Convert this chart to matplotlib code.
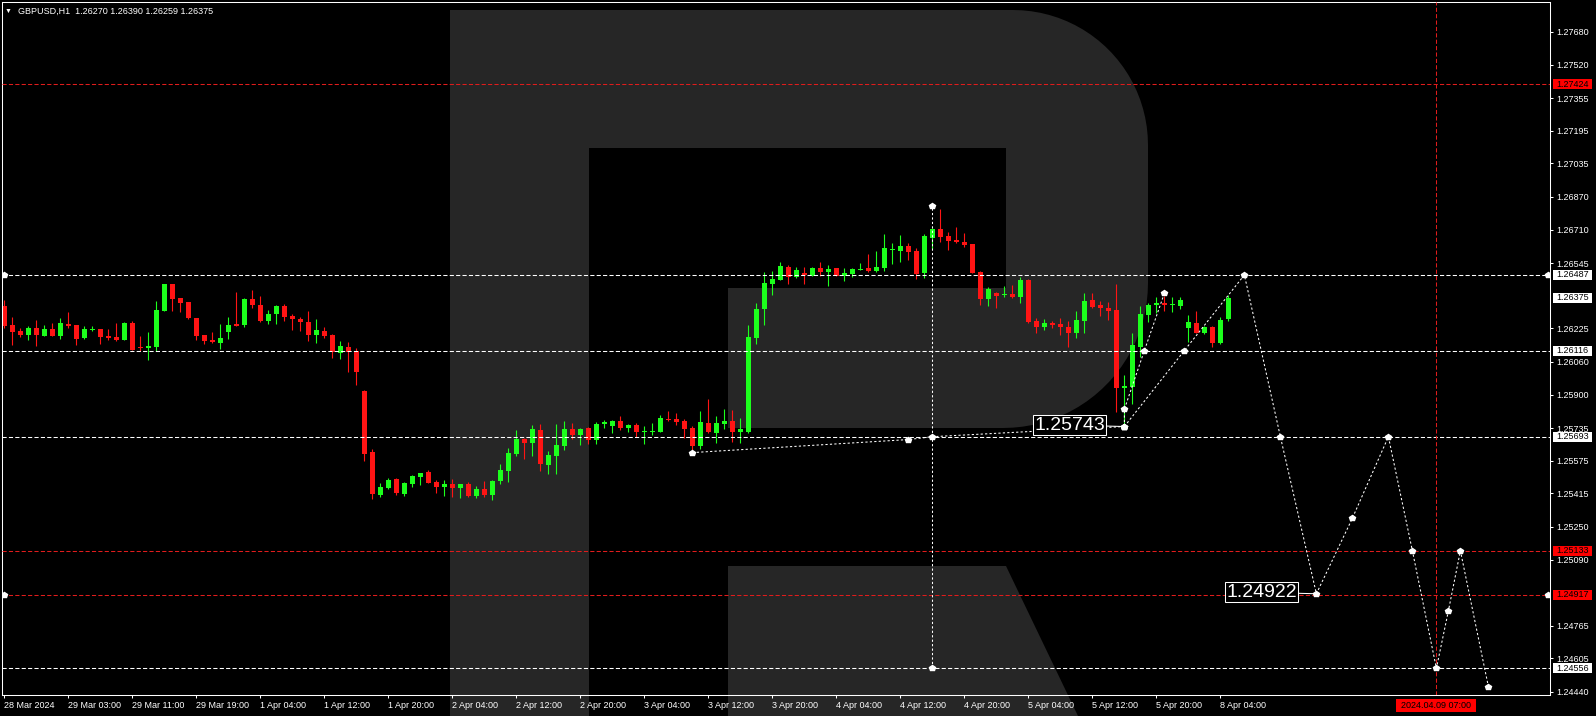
"""GBPUSD H1 candles with the forecast overlay, drawn like a dark MT4 chart."""
import matplotlib
matplotlib.use("Agg")
import matplotlib.pyplot as plt
import matplotlib.transforms as mtransforms
from matplotlib.patches import Polygon, Rectangle
import numpy as np

plt.rcParams['font.family'] = ['Liberation Sans', 'DejaVu Sans']
plt.rcParams['lines.scale_dashes'] = False

symbol = "GBPUSD,H1"

# one value per H1 bar, bar 0 = 28 Mar 19:00, last bar = 8 Apr 05:00
opens = [
    1.26335, 1.26241, 1.26212, 1.26192, 1.26227, 1.26188, 1.26222, 1.26188, 1.26246, 1.26241,
    1.26178, 1.26215, 1.26222, 1.26188, 1.26183, 1.26168, 1.26251, 1.26134, 1.26129, 1.26134,
    1.26310, 1.26442, 1.26374, 1.26354, 1.26276, 1.26192, 1.26168, 1.26153, 1.26207, 1.26246,
    1.26241, 1.26369, 1.26340, 1.26261, 1.26295, 1.26335, 1.26286, 1.26271, 1.26256, 1.26192,
    1.26212, 1.26192, 1.26104, 1.26134, 1.26114, 1.25918, 1.25618, 1.25407, 1.25442, 1.25486,
    1.25412, 1.25461, 1.25496, 1.25520, 1.25471, 1.25447, 1.25461, 1.25442, 1.25461, 1.25402,
    1.25437, 1.25407, 1.25476, 1.25525, 1.25608, 1.25682, 1.25663, 1.25726, 1.25554, 1.25599,
    1.25647, 1.25731, 1.25702, 1.25736, 1.25677, 1.25756, 1.25746, 1.25770, 1.25736, 1.25751,
    1.25716, 1.25716, 1.25716, 1.25780, 1.25780, 1.25770, 1.25736, 1.25647, 1.25761, 1.25712,
    1.25756, 1.25770, 1.25716, 1.25716, 1.26178, 1.26320, 1.26442, 1.26462, 1.26526, 1.26477,
    1.26497, 1.26482, 1.26521, 1.26502, 1.26521, 1.26482, 1.26492, 1.26512, 1.26521, 1.26507,
    1.26521, 1.26610, 1.26605, 1.26630, 1.26605, 1.26497, 1.26669, 1.26713, 1.26679, 1.26659,
    1.26649, 1.26639, 1.26502, 1.26369, 1.26399, 1.26389, 1.26394, 1.26379, 1.26462, 1.26261,
    1.26232, 1.26251, 1.26246, 1.26232, 1.26202, 1.26261, 1.26364, 1.26340, 1.26325, 1.26315,
    1.25933, 1.25938, 1.26134, 1.26290, 1.26340, 1.26349, 1.26340, 1.26335, 1.26227, 1.26251,
    1.26202, 1.26232, 1.26153, 1.26270,
]
highs = [
    1.26364, 1.26281, 1.26227, 1.26237, 1.26266, 1.26241, 1.26251, 1.26276, 1.26305, 1.26243,
    1.26237, 1.26237, 1.26224, 1.26222, 1.26251, 1.26256, 1.26261, 1.26188, 1.26207, 1.26359,
    1.26444, 1.26444, 1.26376, 1.26356, 1.26278, 1.26194, 1.26207, 1.26246, 1.26281, 1.26403,
    1.26374, 1.26413, 1.26384, 1.26315, 1.26340, 1.26345, 1.26295, 1.26281, 1.26310, 1.26271,
    1.26232, 1.26197, 1.26163, 1.26158, 1.26129, 1.25920, 1.25633, 1.25466, 1.25491, 1.25488,
    1.25471, 1.25505, 1.25515, 1.25530, 1.25481, 1.25481, 1.25486, 1.25463, 1.25471, 1.25451,
    1.25476, 1.25481, 1.25559, 1.25638, 1.25726, 1.25687, 1.25751, 1.25756, 1.25623, 1.25756,
    1.25770, 1.25761, 1.25736, 1.25741, 1.25766, 1.25775, 1.25775, 1.25795, 1.25756, 1.25761,
    1.25746, 1.25761, 1.25800, 1.25820, 1.25810, 1.25780, 1.25746, 1.25820, 1.25879, 1.25795,
    1.25830, 1.25825, 1.25785, 1.26241, 1.26349, 1.26502, 1.26507, 1.26551, 1.26536, 1.26526,
    1.26526, 1.26526, 1.26551, 1.26536, 1.26523, 1.26521, 1.26521, 1.26546, 1.26590, 1.26605,
    1.26688, 1.26644, 1.26684, 1.26644, 1.26620, 1.26688, 1.26718, 1.26811, 1.26698, 1.26723,
    1.26693, 1.26641, 1.26507, 1.26428, 1.26403, 1.26433, 1.26438, 1.26477, 1.26467, 1.26276,
    1.26271, 1.26261, 1.26276, 1.26261, 1.26310, 1.26399, 1.26399, 1.26359, 1.26354, 1.26442,
    1.25996, 1.26202, 1.26335, 1.26349, 1.26379, 1.26384, 1.26379, 1.26379, 1.26290, 1.26310,
    1.26237, 1.26234, 1.26281, 1.26390,
]
lows = [
    1.26227, 1.26143, 1.26183, 1.26168, 1.26139, 1.26186, 1.26186, 1.26173, 1.26227, 1.26143,
    1.26173, 1.26212, 1.26148, 1.26168, 1.26163, 1.26166, 1.26117, 1.26114, 1.26070, 1.26114,
    1.26308, 1.26310, 1.26305, 1.26271, 1.26168, 1.26148, 1.26153, 1.26124, 1.26173, 1.26234,
    1.26232, 1.26325, 1.26256, 1.26246, 1.26246, 1.26261, 1.26217, 1.26212, 1.26163, 1.26153,
    1.26178, 1.26080, 1.26075, 1.26011, 1.25947, 1.25574, 1.25387, 1.25397, 1.25437, 1.25407,
    1.25402, 1.25447, 1.25456, 1.25464, 1.25417, 1.25402, 1.25397, 1.25392, 1.25397, 1.25392,
    1.25397, 1.25382, 1.25461, 1.25471, 1.25599, 1.25584, 1.25599, 1.25525, 1.25510, 1.25510,
    1.25628, 1.25682, 1.25652, 1.25657, 1.25657, 1.25736, 1.25712, 1.25726, 1.25716, 1.25692,
    1.25657, 1.25702, 1.25714, 1.25770, 1.25751, 1.25687, 1.25628, 1.25633, 1.25712, 1.25663,
    1.25731, 1.25667, 1.25663, 1.25712, 1.26148, 1.26241, 1.26389, 1.26460, 1.26442, 1.26472,
    1.26442, 1.26480, 1.26482, 1.26433, 1.26480, 1.26457, 1.26477, 1.26510, 1.26502, 1.26502,
    1.26507, 1.26541, 1.26551, 1.26561, 1.26467, 1.26472, 1.26615, 1.26649, 1.26610, 1.26644,
    1.26625, 1.26497, 1.26340, 1.26335, 1.26325, 1.26379, 1.26374, 1.26349, 1.26251, 1.26202,
    1.26217, 1.26227, 1.26192, 1.26134, 1.26178, 1.26202, 1.26325, 1.26286, 1.26266, 1.25815,
    1.25743, 1.25854, 1.26085, 1.26256, 1.26300, 1.26310, 1.26305, 1.26320, 1.26158, 1.26202,
    1.26197, 1.26134, 1.26148, 1.26259,
]
closes = [
    1.26237, 1.26207, 1.26192, 1.26227, 1.26192, 1.26222, 1.26188, 1.26251, 1.26237, 1.26173,
    1.26222, 1.26224, 1.26183, 1.26178, 1.26168, 1.26251, 1.26119, 1.26129, 1.26139, 1.26315,
    1.26442, 1.26369, 1.26349, 1.26276, 1.26188, 1.26163, 1.26158, 1.26178, 1.26241, 1.26237,
    1.26369, 1.26340, 1.26261, 1.26295, 1.26335, 1.26281, 1.26271, 1.26256, 1.26192, 1.26217,
    1.26188, 1.26109, 1.26139, 1.26109, 1.26011, 1.25608, 1.25412, 1.25447, 1.25481, 1.25417,
    1.25466, 1.25501, 1.25513, 1.25466, 1.25447, 1.25461, 1.25442, 1.25459, 1.25402, 1.25437,
    1.25407, 1.25476, 1.25530, 1.25613, 1.25682, 1.25663, 1.25731, 1.25559, 1.25603, 1.25652,
    1.25731, 1.25702, 1.25731, 1.25677, 1.25756, 1.25766, 1.25770, 1.25736, 1.25751, 1.25716,
    1.25721, 1.25721, 1.25785, 1.25775, 1.25766, 1.25731, 1.25647, 1.25766, 1.25716, 1.25761,
    1.25770, 1.25716, 1.25731, 1.26183, 1.26320, 1.26448, 1.26467, 1.26531, 1.26477, 1.26512,
    1.26487, 1.26521, 1.26502, 1.26516, 1.26482, 1.26497, 1.26516, 1.26516, 1.26507, 1.26526,
    1.26620, 1.26615, 1.26630, 1.26600, 1.26492, 1.26679, 1.26713, 1.26674, 1.26654, 1.26649,
    1.26635, 1.26499, 1.26369, 1.26418, 1.26384, 1.26394, 1.26379, 1.26462, 1.26256, 1.26232,
    1.26251, 1.26241, 1.26232, 1.26202, 1.26266, 1.26359, 1.26330, 1.26325, 1.26310, 1.25933,
    1.25943, 1.26143, 1.26295, 1.26340, 1.26349, 1.26340, 1.26345, 1.26364, 1.26256, 1.26202,
    1.26232, 1.26153, 1.26266, 1.26375,
]

time_ticks = list(range(0, 153, 8))
time_labels = ["28 Mar 2024", "29 Mar 03:00", "29 Mar 11:00", "29 Mar 19:00", "1 Apr 04:00",
               "1 Apr 12:00", "1 Apr 20:00", "2 Apr 04:00", "2 Apr 12:00", "2 Apr 20:00",
               "3 Apr 04:00", "3 Apr 12:00", "3 Apr 20:00", "4 Apr 04:00", "4 Apr 12:00",
               "4 Apr 20:00", "5 Apr 04:00", "5 Apr 12:00", "5 Apr 20:00", "8 Apr 04:00"]
price_ticks = [1.27680, 1.27520, 1.27355, 1.27195, 1.27035, 1.26870, 1.26710, 1.26545,
               1.26225, 1.26060, 1.25900, 1.25735, 1.25575, 1.25415, 1.25250, 1.25090,
               1.24765, 1.24605, 1.24440]

white_levels = [1.26487, 1.26116, 1.25693, 1.24556]
red_levels = [1.27424, 1.25133, 1.24917]
end_marked_levels = [1.26487, 1.24917]
time_marker_bar = 179
time_marker_label = "2024.04.09 07:00"

# forecast drawing (bar index, price)
trend_x = [86, 113, 116, 140]
trend_y = [1.25615, 1.25679, 1.25693, 1.25743]
short_x = [140, 140, 142.5, 145]
short_y = [1.25743, 1.25828, 1.26116, 1.26397]
path_x = [140, 147.5, 155, 159.5, 164, 168.5, 173, 176, 179, 180.5, 182, 185.5]
path_y = [1.25743, 1.26116, 1.26487, 1.25693, 1.24922, 1.25293, 1.25693, 1.25133,
          1.24556, 1.24838, 1.25133, 1.24466]
peak_bar = 116
peak_top, peak_bottom = 1.26826, 1.24556
callout_x = [140, 164]
callout_y = [1.25743, 1.24922]

GREEN, RED, LVL_RED, LOGO = "#1cff1c", "#ff1414", "#e01c1c", "#262626"
W, H = 1596, 716

fig = plt.figure(figsize=(W / 100, H / 100), dpi=100, facecolor="black")

# background logo in pixel space
bg = fig.add_axes([0, 0, 1, 1])
bg.set_xlim(0, W); bg.set_ylim(H, 0); bg.axis("off")


def corner(cx, cy, r, a0, a1):
    t = np.radians(np.linspace(a0, a1, 24))
    return np.column_stack([cx + r * np.cos(t), cy + r * np.sin(t)])


bowl = np.vstack([[[450, 10], [1013, 10]],
                  corner(1013, 145, 135, -90, 0),
                  corner(1003, 283, 145, 0, 90),
                  [[728, 428], [728, 288], [1006, 288], [1006, 148],
                   [589, 148], [589, 716], [450, 716]]])
bg.add_patch(Polygon(bowl, closed=True, fc=LOGO, ec="none"))
bg.add_patch(Polygon([[728, 566], [1006, 566], [1078, 716], [728, 716]],
                     closed=True, fc=LOGO, ec="none"))

ax = fig.add_axes([2 / W, 21 / H, 1548 / W, 693 / H])
ax.set_facecolor("none")
ax.set_xlim(-0.29, 193.2)
ax.set_ylim(1.24425, 1.27827)
ypx = (1.27827 - 1.24425) / 693

o, hi, lo, c = map(np.array, (opens, highs, lows, closes))
idx = np.arange(len(o))
cols = np.where(c >= o, GREEN, RED)
ax.vlines(idx, lo, hi, colors=cols, lw=0.8, zorder=2)
ax.bar(idx, np.maximum(np.abs(c - o), ypx), bottom=np.minimum(o, c), width=0.625,
       color=cols, linewidth=0, zorder=2)

dash = (3.0, 1.6)
for lv in white_levels:
    ax.axhline(lv, color="white", lw=0.75, dashes=dash, zorder=3)
for lv in red_levels:
    ax.axhline(lv, color=LVL_RED, lw=0.75, dashes=dash, zorder=3)
ax.axvline(time_marker_bar, color=LVL_RED, lw=0.75, dashes=dash, zorder=3)
for lv in end_marked_levels:
    ax.plot([-0.05, 192.9], [lv, lv], ls="none", marker="p", ms=4, color="white", zorder=4)

dot = (1.6, 1.6)
fc_kw = dict(color="white", lw=0.75, dashes=dot, marker="p", ms=4, zorder=4)
ax.plot(trend_x, trend_y, **fc_kw)
ax.plot(short_x, short_y, **fc_kw)
ax.plot(path_x, path_y, **fc_kw)
ax.plot([peak_bar, peak_bar], [peak_bottom, peak_top], **fc_kw)

for x, y in zip(callout_x, callout_y):
    ax.annotate(f"{y:.5f}", xy=(x, y), xytext=(-14, 1), textcoords="offset points",
                ha="right", va="center", fontsize=14, color="white", zorder=6,
                bbox=dict(boxstyle="square,pad=0.08", fc="black", ec="white", lw=0.75),
                arrowprops=dict(arrowstyle="-", color="white", lw=0.75, shrinkA=0, shrinkB=2))

for s in ax.spines.values():
    s.set_color("white"); s.set_linewidth(0.75)

ax.yaxis.tick_right()
ax.set_yticks(price_ticks, [f"{p:.5f}" for p in price_ticks])
ax.tick_params(axis="y", colors="white", length=2.2, width=0.75, pad=2.7, labelsize=6.5)
ax.set_xticks(time_ticks, time_labels)
ax.tick_params(axis="x", colors="white", length=2.5, width=0.75, pad=1.5, labelsize=6.5)
for t in ax.get_xticklabels():
    t.set_ha("left")

# price boxes on the right scale
ty = mtransforms.blended_transform_factory(ax.transAxes, ax.transData)
boxes = [(lv, "white") for lv in white_levels] + [(lv, "#ff0000") for lv in red_levels] \
    + [(closes[-1], "white")]
for lv, fc in boxes:
    ax.add_patch(Rectangle((1 + 2.7 / 1548, lv - 5 * ypx), 39 / 1548, 10 * ypx,
                           transform=ty, fc=fc, ec="none", clip_on=False, zorder=5))
    ax.text(1 + 6 / 1548, lv, f"{lv:.5f}", transform=ty, color="black", fontsize=6.5,
            va="center", ha="left", zorder=6)

# time box on the bottom scale
tx = mtransforms.blended_transform_factory(ax.transData, ax.transAxes)
ax.add_patch(Rectangle((time_marker_bar - 5, -17 / 693), 10, 13 / 693, transform=tx,
                       fc="#ff0000", ec="none", clip_on=False, zorder=5))
ax.text(time_marker_bar, -10.5 / 693, time_marker_label, transform=tx, color="black",
        fontsize=6.5, ha="center", va="center", zorder=6)

title = f"{symbol}  {o[-1]:.5f} {hi[-1]:.5f} {lo[-1]:.5f} {c[-1]:.5f}"
fig.text(5 / W, 1 - 11 / H, "\u25bc", color="white", fontsize=5, va="center")
fig.text(18 / W, 1 - 11 / H, title, color="white", fontsize=6.5, va="center")

fig.savefig("out.png", dpi=100, facecolor="black")
